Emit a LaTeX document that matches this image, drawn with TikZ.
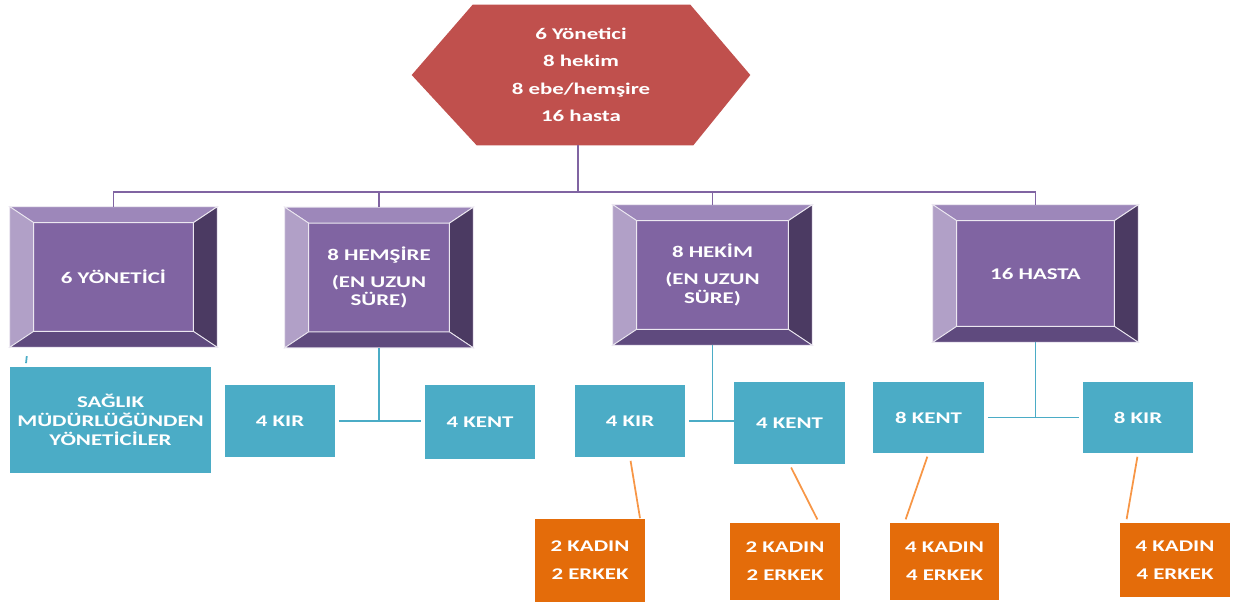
\documentclass[tikz,border=0pt]{standalone}
\usepackage{fontspec}
\setmainfont{Carlito}[FakeStretch=1.4]
\usetikzlibrary{calc,backgrounds}
\definecolor{hexred}{RGB}{192,80,77}
\definecolor{purplemid}{RGB}{128,100,162}
\definecolor{purpletop}{RGB}{157,135,186}
\definecolor{purpleleft}{RGB}{177,160,199}
\definecolor{purpleright}{RGB}{75,58,98}
\definecolor{purplebottom}{RGB}{95,74,126}
\definecolor{aqua}{RGB}{75,172,198}
\definecolor{darkorange}{RGB}{228,108,10}
\definecolor{lightorange}{RGB}{247,150,70}

% four bevel facets round a named box
\newcommand{\bevelframe}[1]{%
  \filldraw[purpletop, draw=white!85!purplemid, line width=0.5pt]
    (#1.north west) -- (#1.north east) -- ($(#1.north east)+(-24,16)$) -- ($(#1.north west)+(24,16)$) -- cycle;
  \filldraw[purpleleft, draw=white!85!purplemid, line width=0.5pt]
    (#1.north west) -- ($(#1.north west)+(24,16)$) -- ($(#1.south west)+(24,-16)$) -- (#1.south west) -- cycle;
  \filldraw[purpleright, draw=white!85!purplemid, line width=0.5pt]
    (#1.north east) -- ($(#1.north east)+(-24,16)$) -- ($(#1.south east)+(-24,-16)$) -- (#1.south east) -- cycle;
  \filldraw[purplebottom, draw=white!85!purplemid, line width=0.5pt]
    (#1.south west) -- ($(#1.south west)+(24,-16)$) -- ($(#1.south east)+(-24,-16)$) -- (#1.south east) -- cycle;
}

\begin{document}
\begin{tikzpicture}[x=0.02cm, y=-0.02cm,
    pbox/.style={fill=purplemid, minimum height=2.8cm, inner sep=0pt, align=center,
                 text=white, font=\fontsize{9.3}{10.5}\selectfont\bfseries},
    tbox/.style={fill=aqua, minimum width=2.2cm, inner sep=0pt, align=center,
                 text=white, font=\fontsize{9.3}{10.8}\selectfont\bfseries},
    obox/.style={fill=darkorange, minimum width=2.2cm, inner sep=0pt, align=center,
                 text=white, font=\fontsize{9.3}{16}\selectfont\bfseries},
    pline/.style={draw=purplemid, line width=1.1pt},
    tline/.style={draw=aqua, line width=1pt},
    oline/.style={draw=lightorange, line width=1pt}]
\useasboundingbox (0,0) rectangle (1233,602);

% top hexagon
\node[minimum width=6.76cm, minimum height=2.8cm, inner sep=0pt, align=center, text=white,
      font=\fontsize{9.3}{15.6}\selectfont\bfseries] (top) at (581,75)
      {6 Yönetici\\8 hekim\\8 ebe/hemşire\\16 hasta};
\begin{scope}[on background layer]
\fill[hexred] ($(top.north west)+(61,0)$) -- ($(top.north east)+(-60,0)$) -- (top.east)
    -- ($(top.south east)+(-57,0)$) -- ($(top.south west)+(65,0)$) -- (top.west) -- cycle;
\end{scope}

% purple boxes
\node[pbox, minimum width=4.14cm] (yon) at (113.5,277) {6 YÖNETİCİ};
\node[pbox, minimum width=3.76cm] (hem) at (379,277.5) {8 HEMŞİRE\\[5pt](EN UZUN\\SÜRE)};
\node[pbox, minimum width=3.98cm] (hek) at (712.5,275) {8 HEKİM\\[5pt](EN UZUN\\SÜRE)};
\node[pbox, minimum width=4.10cm, minimum height=2.74cm] (has) at (1035.5,273.5) {16 HASTA};
\bevelframe{yon}
\bevelframe{hem}
\bevelframe{hek}
\bevelframe{has}

% aqua boxes
\node[tbox, minimum width=4.02cm, minimum height=2.12cm] (saglik) at (110.5,420)
      {SAĞLIK\\MÜDÜRLÜĞÜNDEN\\YÖNETİCİLER};
\node[tbox, minimum height=1.44cm] (kirhem) at (280,421) {4 KIR};
\node[tbox, minimum height=1.48cm] (kenthem) at (480,422) {4 KENT};
\node[tbox, minimum height=1.44cm] (kirhek) at (630,421) {4 KIR};
\node[tbox, minimum width=2.22cm, minimum height=1.64cm] (kenthek) at (789.5,423) {4 KENT};
\node[tbox, minimum width=2.22cm, minimum height=1.42cm] (kenthas) at (928.5,417.5) {8 KENT};
\node[tbox, minimum height=1.42cm] (kirhas) at (1138,417.5) {8 KIR};

% orange boxes
\node[obox, minimum height=1.66cm] (kekirhek) at (590,560) {2 KADIN\\2 ERKEK};
\node[obox, minimum height=1.54cm] (kekenthek) at (785,561.5) {2 KADIN\\2 ERKEK};
\node[obox, minimum width=2.18cm, minimum height=1.54cm] (kekenthas) at (944.5,561.5) {4 KADIN\\4 ERKEK};
\node[obox, minimum height=1.48cm] (kekirhas) at (1175,560) {4 KADIN\\4 ERKEK};

% purple tree
\coordinate (bus) at (578,192);
\draw[pline] (top.south -| bus) -- (bus);
\draw[pline] (yon.north) |- (has.north |- bus) -- (has.north);
\foreach \b in {hem,hek}
  \draw[pline] (\b.north) -- (\b.north |- bus);

% aqua links
\draw[tline, shorten <=5pt, shorten >=2pt] ($(yon.south west)+(18,0)$) -- ($(saglik.north west)+(16,0)$);
\draw[tline] (hem.south) -- (hem.south |- kirhem.east);
\draw[tline, shorten <=2pt, shorten >=2pt] (kirhem.east) -- (kenthem.west |- kirhem.east);
\draw[tline] (hek.south) -- (hek.south |- kirhek.east);
\draw[tline, shorten <=2pt] (kirhek.east) -- (kenthek.west |- kirhek.east);
\draw[tline] (has.south) -- (has.south |- kenthas.east);
\draw[tline, shorten <=2pt, shorten >=2pt] (kenthas.east) -- (kirhas.west);

% orange links
\draw[oline, shorten <=2pt] (kirhek.south) -- ($(kekirhek.north)+(50,0)$);
\draw[oline, shorten <=2pt, shorten >=2pt] (kenthek.south) -- ($(kekenthek.north)+(34,0)$);
\draw[oline, shorten <=2pt, shorten >=2pt] (kenthas.south) -- ($(kekenthas.north)+(-40,0)$);
\draw[oline, shorten <=2pt, shorten >=2pt] (kirhas.south) -- ($(kekirhas.north)+(-49,0)$);
\end{tikzpicture}
\end{document}
